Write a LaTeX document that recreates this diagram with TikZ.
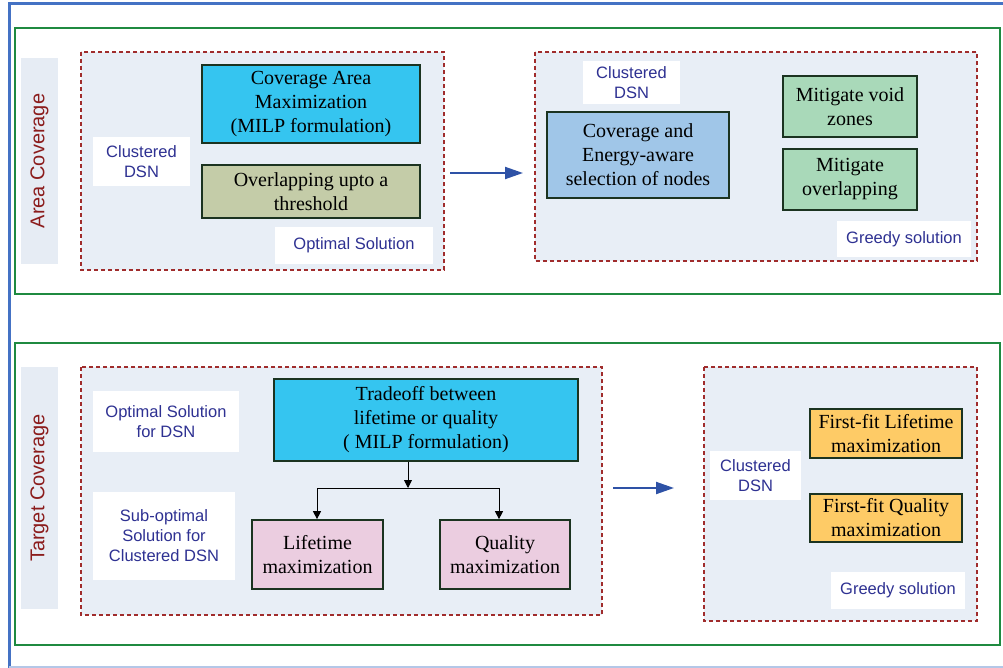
\documentclass[tikz,border=0pt]{standalone}
\usepackage{fontspec}
\setmainfont{Liberation Serif}
\setsansfont{Liberation Sans}
\usetikzlibrary{arrows.meta}
\definecolor{bluefr}{HTML}{4472C4}
\definecolor{greenfr}{HTML}{1F8A40}
\definecolor{labelbg}{HTML}{E6ECF4}
\definecolor{dashfill}{HTML}{E8EEF6}
\definecolor{dashline}{HTML}{A02C2C}
\definecolor{cyanf}{HTML}{35C5F0}
\definecolor{olivef}{HTML}{C4CCA8}
\definecolor{lbluef}{HTML}{A0C6E8}
\definecolor{mintf}{HTML}{A9D9B9}
\definecolor{pinkf}{HTML}{EBCDE0}
\definecolor{orangef}{HTML}{FECB66}
\definecolor{boxbord}{HTML}{1B3320}
\definecolor{sanscol}{HTML}{2E3192}
\definecolor{labelred}{HTML}{8B1C1C}
\definecolor{arrblue}{HTML}{2E52A6}
\tikzset{
  frame/.style={draw=greenfr, line width=1.8pt},
  sidelabel/.style={fill=labelbg, inner sep=0pt, text=labelred, font=\sffamily\fontsize{20}{24}\selectfont},
  dashbox/.style={draw=dashline, fill=dashfill, line width=1.1pt, dash pattern=on 4pt off 3pt},
  whitebox/.style={fill=white, inner sep=0pt, align=center, text=sanscol, font=\sffamily\fontsize{16.5}{20}\selectfont},
  stepbox/.style={draw=boxbord, line width=1.7pt, inner sep=0pt, align=center, font=\fontsize{20}{24}\selectfont},
  bigarrow/.style={draw=arrblue, line width=2pt, -{Triangle[length=18pt,width=12pt]}},
  smallarrow/.style={draw=black, line width=0.9pt, -{Triangle[length=8pt,width=8pt]}}
}
\begin{document}
\begin{tikzpicture}[x=1pt,y=-1pt]
\useasboundingbox (0,0) rectangle (1003,668);
% outer blue frame
\draw[bluefr, line width=3pt] (9,668) -- (9,4) -- (1003,4);
\draw[color=bluefr!40, line width=1.2pt] (9,667) -- (1003,667);
% green frames
\draw[frame] (15,28) rectangle (1000,294);
\draw[frame] (15,343) rectangle (1000,645);
% side labels
\node[sidelabel, minimum width=37pt, minimum height=206pt] (lab1) at (39.5,161) {};
\node[rotate=90, text=labelred, font=\sffamily\fontsize{20}{24}\selectfont] at (lab1.center) {Area Coverage};
\node[sidelabel, minimum width=37pt, minimum height=242pt] (lab2) at (39.5,488) {};
\node[rotate=90, text=labelred, font=\sffamily\fontsize{20}{24}\selectfont] at (lab2.center) {Target Coverage};
% dashed containers
\draw[dashbox] (81,52) rectangle (444,270);
\draw[dashbox] (535,52) rectangle (977,261);
\draw[dashbox] (81,367) rectangle (602,615);
\draw[dashbox] (704,367) rectangle (977,621);
% ---- top left
\node[whitebox, minimum width=97pt, minimum height=49pt] (cd1) at (141.5,161.5) {Clustered\\DSN};
\node[stepbox, fill=cyanf, minimum width=218pt, minimum height=78pt] (cam) at (311,104) {Coverage Area\\Maximization\\(MILP formulation)};
\node[stepbox, fill=olivef, minimum width=218pt, minimum height=53pt] (ovl) at (311,191.5) {Overlapping upto a\\threshold};
\node[whitebox, minimum width=158pt, minimum height=37pt] (opt1) at (354,245.5) {Optimal Solution};
% ---- top right
\node[whitebox, minimum width=97pt, minimum height=43pt] (cd2) at (631.5,82.5) {Clustered\\DSN};
\node[stepbox, fill=lbluef, minimum width=182pt, minimum height=86pt] (cen) at (638,155) {Coverage and\\Energy-aware\\selection of nodes};
\node[stepbox, fill=mintf, minimum width=134pt, minimum height=61pt] (mvz) at (850,106.5) {Mitigate void\\zones};
\node[stepbox, fill=mintf, minimum width=134pt, minimum height=61pt] (mov) at (850,179.5) {Mitigate\\overlapping};
\node[whitebox, minimum width=134pt, minimum height=36pt] (gr1) at (904,239) {Greedy solution};
% top arrow
\coordinate (a1s) at (450,173);
\coordinate (a1e) at (523,173);
\draw[bigarrow] (a1s) -- (a1e);
% ---- bottom left
\node[whitebox, minimum width=146pt, minimum height=61pt] (opt2) at (166,421.5) {Optimal Solution\\for DSN};
\node[whitebox, minimum width=142pt, minimum height=88pt] (sub) at (164,536) {Sub-optimal\\Solution for\\Clustered DSN};
\node[stepbox, fill=cyanf, minimum width=304pt, minimum height=82pt] (trade) at (426,420) {Tradeoff between\\lifetime or quality\\( MILP formulation)};
\node[stepbox, fill=pinkf, minimum width=131pt, minimum height=69pt] (life) at (317.5,554.5) {Lifetime\\maximization};
\node[stepbox, fill=pinkf, minimum width=130pt, minimum height=69pt] (qual) at (505,554.5) {Quality\\maximization};
\coordinate (j) at (408,488);
\coordinate (jl) at (317,488);
\coordinate (jr) at (499,488);
\draw[smallarrow] (j |- trade.south) -- (j);
\draw[black, line width=0.9pt] (jl) -- (jr);
\draw[smallarrow] (jl) -- (jl |- life.north);
\draw[smallarrow] (jr) -- (jr |- qual.north);
% bottom arrow
\coordinate (a2s) at (613,488);
\coordinate (a2e) at (674,488);
\draw[bigarrow] (a2s) -- (a2e);
% ---- bottom right
\node[whitebox, minimum width=91pt, minimum height=49pt] (cd3) at (755.5,475.5) {Clustered\\DSN};
\node[stepbox, fill=orangef, minimum width=152pt, minimum height=49pt] (ffl) at (886,433.5) {First-fit Lifetime\\maximization};
\node[stepbox, fill=orangef, minimum width=152pt, minimum height=48pt] (ffq) at (886,518) {First-fit Quality\\maximization};
\node[whitebox, minimum width=134pt, minimum height=37pt] (gr2) at (898,590.5) {Greedy solution};
\end{tikzpicture}
\end{document}
